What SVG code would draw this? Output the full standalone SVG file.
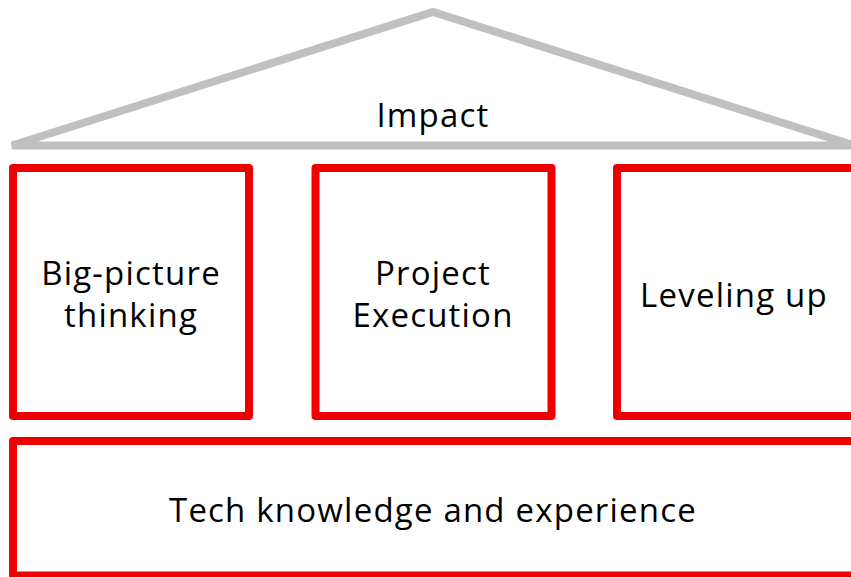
<svg xmlns="http://www.w3.org/2000/svg" width="851" height="577" viewBox="0 0 851 577">
<style>
.box{fill:#ffffff;stroke:#ee0000;stroke-width:8;stroke-linejoin:round}
.roof{fill:#ffffff;stroke:#c0c0c0;stroke-width:8;stroke-linejoin:miter;stroke-linecap:round}
.lbl{font-family:"Open Sans","Noto Sans","Liberation Sans",sans-serif;font-weight:400;font-size:33px;letter-spacing:1.2px;fill:#000000;text-anchor:middle}
</style>
<rect width="851" height="577" fill="#ffffff"/>
<g id="roof">
<polygon class="roof" points="12,145.5 433,12 854,145.5"/>
<text class="lbl" x="433" y="127">Impact</text>
</g>
<g id="big-picture">
<rect class="box" x="13" y="168" width="236" height="248"/>
<text class="lbl" x="131" y="285">Big-picture</text>
<text class="lbl" x="131" y="327">thinking</text>
</g>
<g id="project-execution">
<rect class="box" x="315.5" y="168" width="236" height="248"/>
<text class="lbl" x="433" y="285">Project</text>
<text class="lbl" x="433" y="327">Execution</text>
</g>
<g id="leveling-up">
<rect class="box" x="617" y="168" width="238" height="248"/>
<text class="lbl" x="734" y="307">Leveling up</text>
</g>
<g id="tech-knowledge">
<rect class="box" x="13" y="441" width="842" height="134.5"/>
<text class="lbl" x="433" y="522">Tech knowledge and experience</text>
</g>
<g id="connectors"></g>
</svg>
